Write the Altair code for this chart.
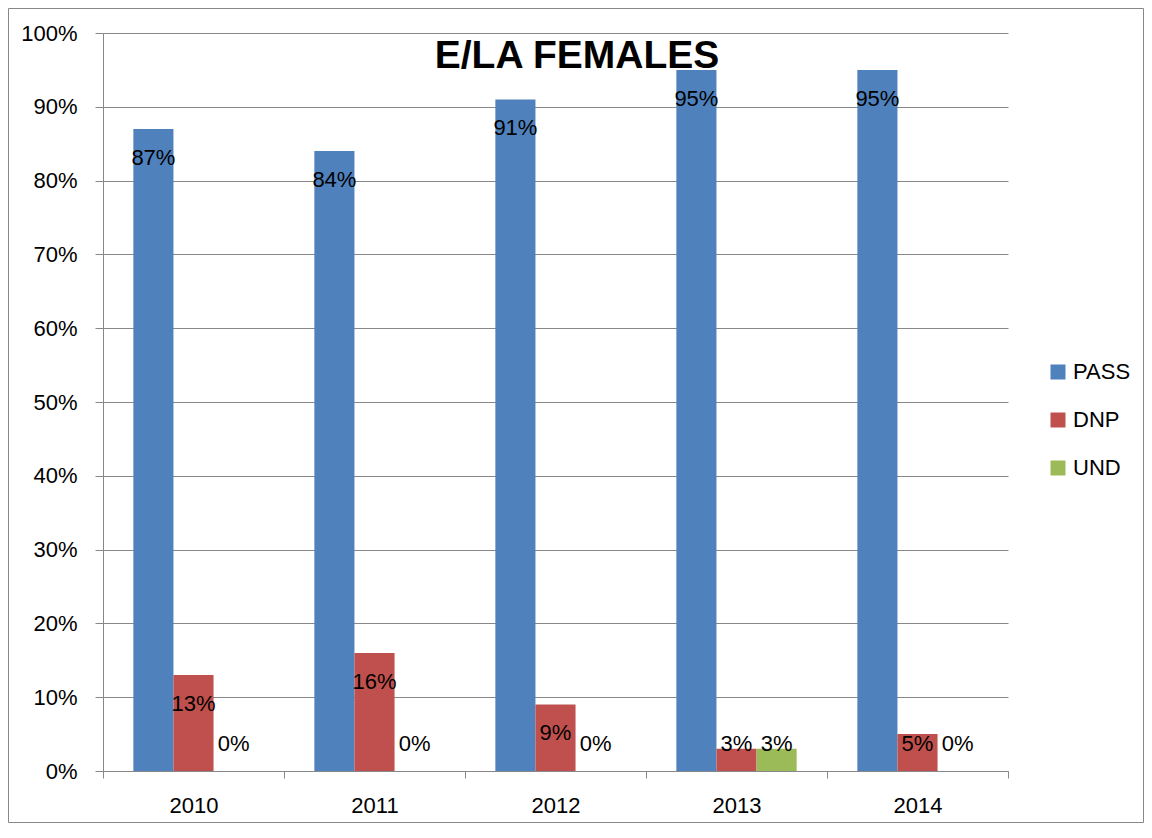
import altair as alt
import pandas as pd

# ---- data ----
years = ["2010", "2011", "2012", "2013", "2014"]
series = ["PASS", "DNP", "UND"]
pass_vals = [0.87, 0.84, 0.91, 0.95, 0.95]
dnp_vals = [0.13, 0.16, 0.09, 0.03, 0.05]
und_vals = [0.00, 0.00, 0.00, 0.03, 0.00]
y_ticks = [0.0, 0.1, 0.2, 0.3, 0.4, 0.5, 0.6, 0.7, 0.8, 0.9, 1.0]
title_text = "E/LA FEMALES"
colors = ["#4F81BD", "#C0504D", "#9BBB59"]

rows = []
for s, vals in zip(series, [pass_vals, dnp_vals, und_vals]):
    for yr, v in zip(years, vals):
        rows.append({"year": yr, "series": s, "value": v})
df = pd.DataFrame(rows)

FONT = "Liberation Sans"
GRID = "#888888"
W, H = 905, 738
PAD = {"left": 95, "top": 25, "right": 136, "bottom": 52}

x_axis = alt.Axis(title=None, labelAngle=0, tickBand="extent", tickSize=7,
                  labelPadding=17, domainColor=GRID, tickColor=GRID, grid=False,
                  labelFont=FONT, labelFontSize=22, labelColor="black")
y_axis = alt.Axis(title=None, values=y_ticks, format=".0%", tickSize=8,
                  labelPadding=18, domainColor=GRID, tickColor=GRID, gridColor=GRID,
                  grid=True, labelFont=FONT, labelFontSize=22, labelColor="black")

x_enc = alt.X("year:N", sort=years, scale=alt.Scale(paddingInner=0, paddingOuter=0), axis=x_axis)
xo_enc = alt.XOffset("series:N", sort=series,
                     scale=alt.Scale(domain=series, paddingInner=0, paddingOuter=0.757))
y_scale = alt.Scale(domain=[0, 1], nice=False)

bars = alt.Chart(df).mark_bar().encode(
    x=x_enc,
    xOffset=xo_enc,
    y=alt.Y("value:Q", scale=y_scale, axis=y_axis),
    color=alt.Color(
        "series:N", sort=series,
        scale=alt.Scale(domain=series, range=colors),
        legend=alt.Legend(title=None, orient="none", legendX=944, legendY=328,
                          symbolType="square", symbolSize=225, symbolStrokeWidth=0,
                          labelFont=FONT, labelFontSize=22, labelColor="black",
                          labelOffset=4, rowPadding=26, padding=0),
    ),
)

labels = alt.Chart(df).transform_calculate(
    label_y="max(datum.value - 0.039, 0.0366)"
).mark_text(font=FONT, fontSize=22, color="black", baseline="middle", align="center").encode(
    x=x_enc,
    xOffset=xo_enc,
    y=alt.Y("label_y:Q", scale=y_scale, axis=y_axis),
    text=alt.Text("value:Q", format=".0%"),
)

title = alt.Chart(pd.DataFrame({"t": [title_text]})).mark_text(
    font=FONT, fontSize=39, fontWeight="bold", align="center",
    baseline="alphabetic", color="black"
).encode(text="t:N", x=alt.value(474), y=alt.value(35.3))

border = alt.Chart(pd.DataFrame({"a": [0]})).mark_rect(
    fillOpacity=0, stroke=GRID, strokeWidth=1
).encode(
    x=alt.value(-PAD["left"] + 0.5),
    y=alt.value(-PAD["top"] + 0.5),
    x2=alt.value(W + PAD["right"] - 0.5),
    y2=alt.value(H + PAD["bottom"] - 0.5),
)

chart = alt.layer(border, bars, labels, title).properties(
    width=W, height=H, padding=PAD, autosize="none", background="white"
).configure_view(strokeWidth=0)

chart.save("out.html", embed_options={"renderer": "svg", "actions": False})
